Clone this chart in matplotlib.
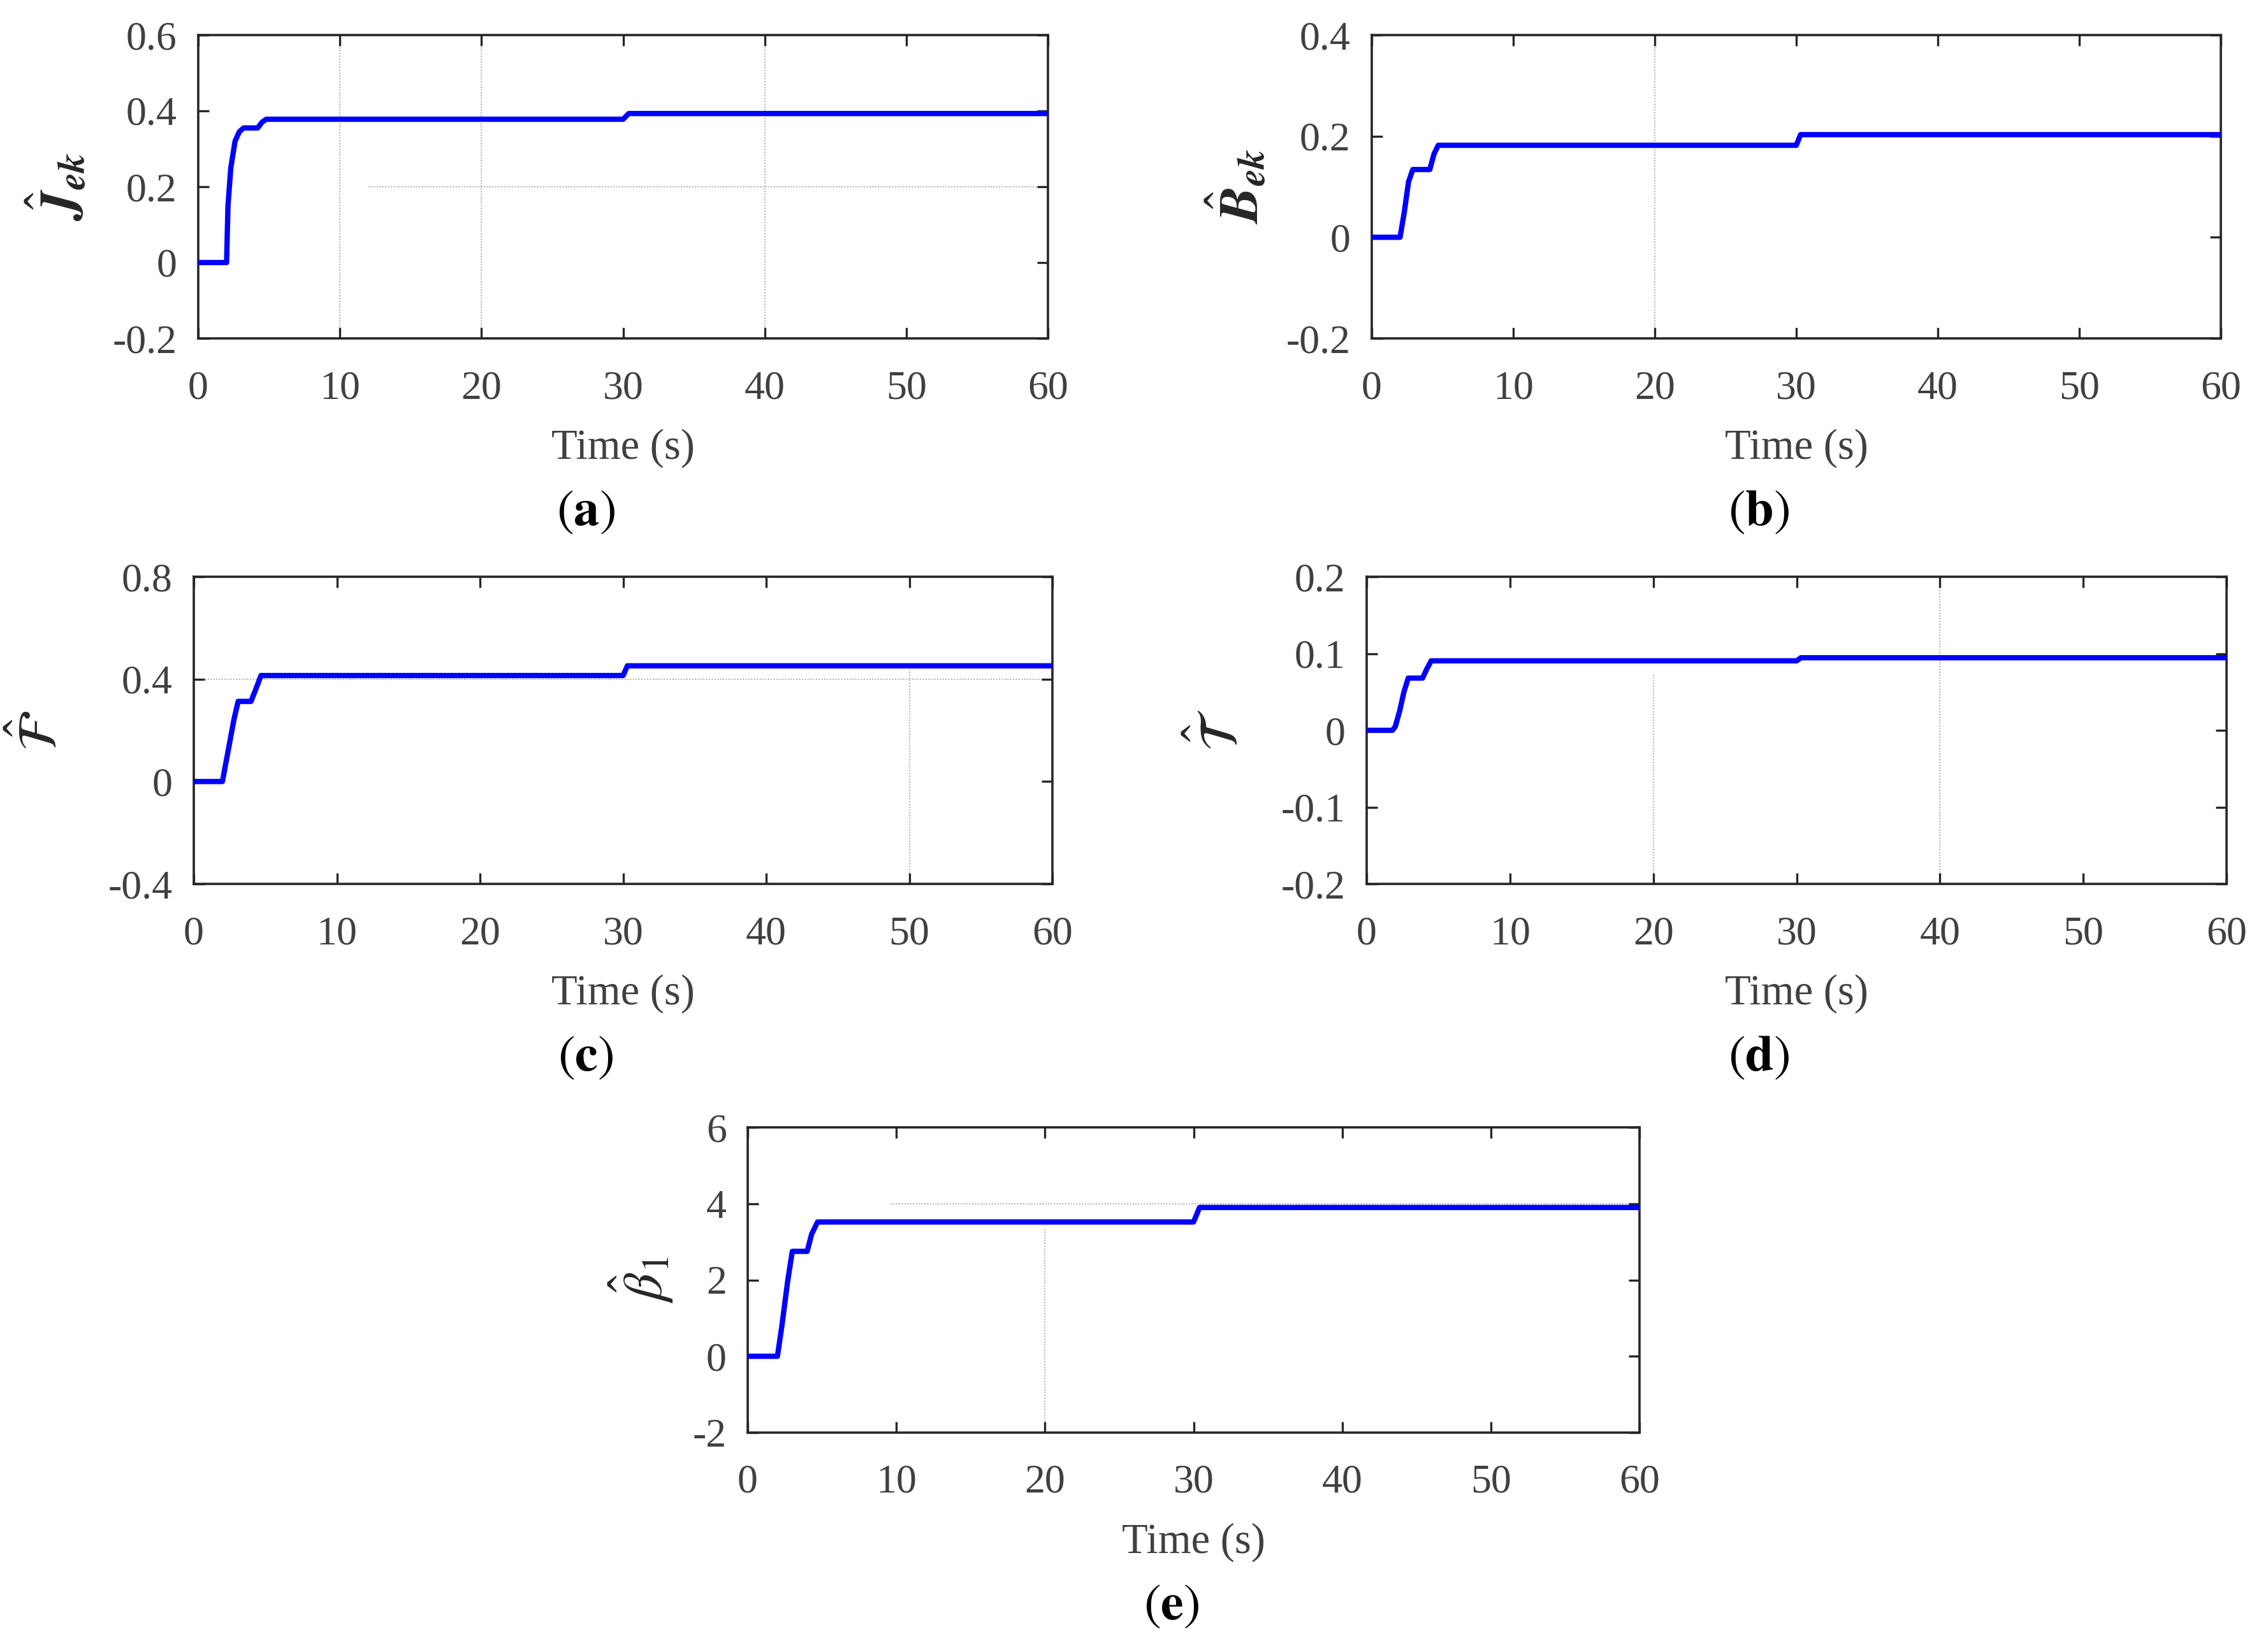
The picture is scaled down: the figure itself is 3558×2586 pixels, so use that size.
import matplotlib
matplotlib.use('Agg')
from matplotlib import pyplot as plt

plt.rcParams['font.family'] = ['Liberation Serif', 'DejaVu Serif']
plt.rcParams['mathtext.fontset'] = 'stix'

# time breakpoints / estimated values
t_a = [0, 2.0, 2.1, 2.3, 2.6, 2.9, 3.2, 4.2, 4.5, 4.8, 30.0, 30.4, 60]
y_a = [0, 0, 0.15, 0.25, 0.32, 0.345, 0.355, 0.355, 0.37, 0.378, 0.378, 0.393, 0.393]

t_b = [0, 2.0, 2.3, 2.6, 2.9, 4.1, 4.4, 4.7, 30.0, 30.3, 60]
y_b = [0, 0, 0.05, 0.11, 0.134, 0.134, 0.165, 0.182, 0.182, 0.203, 0.203]

t_c = [0, 2.0, 2.4, 2.8, 3.1, 4.0, 4.4, 4.7, 30.0, 30.3, 60]
y_c = [0, 0, 0.12, 0.24, 0.313, 0.313, 0.37, 0.414, 0.414, 0.452, 0.452]

t_d = [0, 1.8, 2.0, 2.3, 2.6, 2.9, 3.9, 4.2, 4.5, 30.0, 30.3, 60]
y_d = [0, 0, 0.005, 0.025, 0.05, 0.068, 0.068, 0.08, 0.0905, 0.0905, 0.0945, 0.0945]

t_e = [0, 2.0, 2.3, 2.7, 3.0, 4.0, 4.3, 4.7, 30.0, 30.4, 60]
y_e = [0, 0, 0.8, 2.0, 2.75, 2.75, 3.2, 3.52, 3.52, 3.9, 3.9]

xticks = [0, 10, 20, 30, 40, 50, 60]
yt_a = [-0.2, 0, 0.2, 0.4, 0.6]
yl_a = ['-0.2', '0', '0.2', '0.4', '0.6']
yt_b = [-0.2, 0, 0.2, 0.4]
yl_b = ['-0.2', '0', '0.2', '0.4']
yt_c = [-0.4, 0, 0.4, 0.8]
yl_c = ['-0.4', '0', '0.4', '0.8']
yt_d = [-0.2, -0.1, 0, 0.1, 0.2]
yl_d = ['-0.2', '-0.1', '0', '0.1', '0.2']
yt_e = [-2, 0, 2, 4, 6]
yl_e = ['-2', '0', '2', '4', '6']

W, H = 3558, 2586
fig = plt.figure(figsize=(W / 200, H / 200), dpi=200)

# axes boxes in pixels: left, top, right, bottom
boxes = [(311, 55, 1644, 531), (2152, 55, 3484, 531),
         (304, 905, 1651, 1387), (2144, 905, 3493, 1387),
         (1173, 1769, 2572, 2248)]
ylab_off = [219, 209, 239, 229, 167]
tag_shift = [-59, -59, -59, -59, -35]   # panel letters sit a bit left of centre

panels = [
    (t_a, y_a, yt_a, yl_a, r'$\hat{\boldsymbol{J}}_{\boldsymbol{ek}}$', 'a'),
    (t_b, y_b, yt_b, yl_b, r'$\hat{\boldsymbol{B}}_{\boldsymbol{ek}}$', 'b'),
    (t_c, y_c, yt_c, yl_c, r'$\hat{\mathcal{F}}$', 'c'),
    (t_d, y_d, yt_d, yl_d, r'$\hat{\mathcal{T}}$', 'd'),
    (t_e, y_e, yt_e, yl_e, r'$\hat{\beta}_1$', 'e'),
]

# odd partial dotted grid pieces seen in the original
grid_pieces = {
    0: [('v', 10, 0, 1), ('v', 20, 0, 1), ('v', 40, 0, 1), ('h', 0.2, 0.2, 1)],
    1: [('v', 20, 0, 1)],
    2: [('h', 0.4, 0, 1), ('v', 50, 0, 0.7)],
    3: [('v', 20, 0, 0.68), ('v', 40, 0, 1)],
    4: [('v', 20, 0, 0.67), ('h', 4, 0.16, 1)],
}

for i, (t, y, yt, yl, ylabel, tag) in enumerate(panels):
    l, tp, r, b = boxes[i]
    ax = fig.add_axes([l / W, 1 - b / H, (r - l) / W, (b - tp) / H])
    hpx = b - tp
    wpx = r - l
    for kind, pos, a0, a1 in grid_pieces[i]:
        if kind == 'v':
            ax.axvline(pos, a0, a1, color='#909090', lw=0.6, ls=':', zorder=0)
        else:
            ax.axhline(pos, a0, a1, color='#909090', lw=0.6, ls=':', zorder=0)
    ax.plot(t, y, color='#0000ff', lw=3.0, solid_capstyle='butt', zorder=3)
    ax.set_xlim(0, 60)
    ax.set_ylim(yt[0], yt[-1])
    ax.set_xticks(xticks)
    ax.set_xticklabels([str(v) for v in xticks])
    ax.set_yticks(yt)
    ax.set_yticklabels(yl)
    ax.tick_params(direction='in', top=True, right=True, length=6, width=1.2,
                   color='#262626', labelcolor='#404040', labelsize=23)
    ax.tick_params(axis='x', pad=18)
    ax.tick_params(axis='y', pad=12)
    for s in ax.spines.values():
        s.set_linewidth(1.3)
        s.set_color('#262626')
    ax.set_xlabel('Time (s)', fontsize=24, color='#404040', va='center')
    ax.xaxis.set_label_coords(0.5, -172 / hpx)
    ax.set_ylabel(ylabel, fontsize=31, color='#262626', va='center')
    ax.yaxis.set_label_coords(-ylab_off[i] / wpx, 0.5)
    ax.text(0.5 + tag_shift[i] / wpx, -273 / hpx, r'$(\mathbf{' + tag + r'})$',
            transform=ax.transAxes, ha='center', va='center', fontsize=29,
            color='black')

fig.savefig('out.png', dpi=200)
